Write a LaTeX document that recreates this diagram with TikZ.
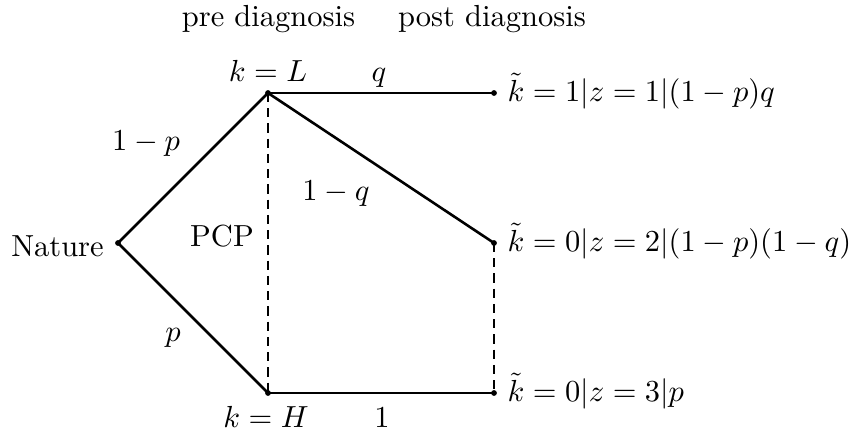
\documentclass[tikz,border=0pt]{standalone}
\begin{document}
\begin{tikzpicture}[x=0.328pt,y=-0.328pt,
  dot/.style={circle,fill=black,inner sep=0pt,minimum size=1.9pt},
  edge/.style={line width=0.85pt},
  dedge/.style={line width=0.85pt,dash pattern=on 3pt off 2pt},
  lbl/.style={inner sep=0pt,anchor=base},
  rlbl/.style={inner sep=0pt,anchor=base west}]
\useasboundingbox (0,0) rectangle (861,437);
% dots
\node[dot] (N) at (118,243) {};
\node[dot] (L) at (268,93) {};
\node[dot] (H) at (268,393) {};
\node[dot] (R1) at (494,93) {};
\node[dot] (R2) at (494,243) {};
\node[dot] (R3) at (494,393) {};
% edges
\draw[edge] (N.center) -- (L.center);
\draw[edge] (N.center) -- (H.center);
\draw[edge] (L.center) -- (R1.center);
\draw[edge] (L.center) -- (R2.center);
\draw[edge] (H.center) -- (R3.center);
\draw[dedge] (L.center) -- (H.center);
\draw[dedge] (R2.center) -- (R3.center);
% labels
\node[lbl] (pre) at (268.5,27) {pre diagnosis};
\node[lbl] (post) at (492,27) {post diagnosis};
\node[lbl] (kL) at (268,82) {$k=L$};
\node[lbl] (lq) at (379,82) {$q$};
\node[lbl] (l1p) at (146,151) {$1-p$};
\node[lbl] (l1q) at (336,201) {$1-q$};
\node[lbl] (pcp) at (222,247) {PCP};
\node[lbl] (nat) at (57.5,257) {Nature};
\node[lbl] (lp) at (173,342) {$p$};
\node[lbl] (kH) at (266,428) {$k=H$};
\node[lbl] (l1) at (382,428) {$1$};
\node[rlbl] (t1) at (507,102) {$\tilde{k}=1|z=1|(1-p)q$};
\node[rlbl] (t2) at (507,252) {$\tilde{k}=0|z=2|(1-p)(1-q)$};
\node[rlbl] (t3) at (507,402) {$\tilde{k}=0|z=3|p$};
\end{tikzpicture}
\end{document}
